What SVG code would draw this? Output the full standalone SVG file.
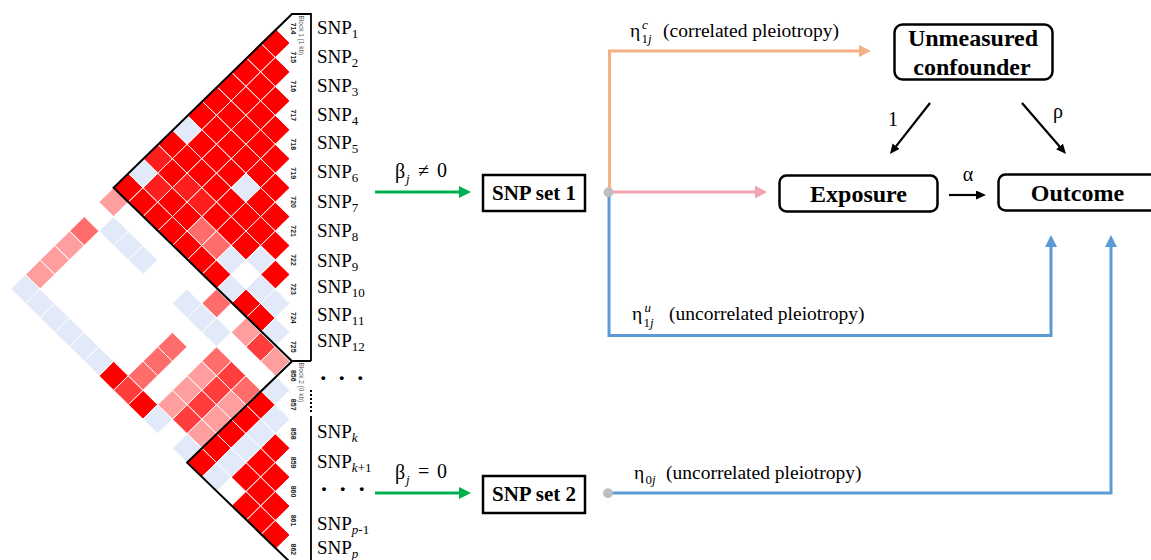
<svg xmlns="http://www.w3.org/2000/svg" width="1151" height="560" viewBox="0 0 1151 560">
<style>
.ld rect{stroke:#fff;stroke-width:1;vector-effect:non-scaling-stroke}
.r{fill:#ff0000}.r2{fill:#ff1e1e}.m{fill:#ff3d3d}.s{fill:#ff6c6c}.p{fill:#ff9e9e}.b{fill:#e2eafa}
.blk{fill:none;stroke:#000;stroke-width:2}
.mk{font-family:"Liberation Sans",Arial,sans-serif;font-size:7px;font-weight:bold;fill:#222;text-anchor:middle}
.bl{font-family:"Liberation Sans",Arial,sans-serif;font-size:6.5px;fill:#555}
.snp{font-family:"Liberation Serif","Times New Roman",serif;font-size:19px;fill:#000}
.sub{font-size:13px}
.it{font-style:italic}
.dots{font-family:"Liberation Serif",serif;font-size:24px;font-weight:bold}
.lbl{font-family:"Liberation Serif","Times New Roman",serif;font-size:19.5px;fill:#000}
.gk{font-family:"Liberation Serif","DejaVu Serif",serif;font-size:20px;fill:#000}
.sm{font-family:"Liberation Serif","DejaVu Serif",serif;font-size:13px;fill:#000}
.box{fill:#fff;stroke:#000;stroke-width:2.5}
.bt{font-family:"Liberation Serif","Times New Roman",serif;font-weight:bold;text-anchor:middle;fill:#000}
.ln{fill:none;stroke-width:3}
.ka{fill:none;stroke:#000;stroke-width:2.2}
</style>
<defs>
<marker id="ag" markerUnits="userSpaceOnUse" markerWidth="13" markerHeight="13" refX="1" refY="6" orient="auto"><path d="M0,0 L12,6 L0,12z" fill="#00b050"/></marker>
<marker id="ao" markerUnits="userSpaceOnUse" markerWidth="13" markerHeight="13" refX="1" refY="6" orient="auto"><path d="M0,0 L12,6 L0,12z" fill="#f4b183"/></marker>
<marker id="ap" markerUnits="userSpaceOnUse" markerWidth="13" markerHeight="13" refX="1" refY="6.5" orient="auto"><path d="M0,0 L12,6.5 L0,13z" fill="#f4a3b4"/></marker>
<marker id="ab" markerUnits="userSpaceOnUse" markerWidth="13" markerHeight="13" refX="1" refY="6" orient="auto"><path d="M0,0 L12,6 L0,12z" fill="#5b9bd5"/></marker>
<marker id="ak" markerUnits="userSpaceOnUse" markerWidth="11" markerHeight="10" refX="0.5" refY="4.5" orient="auto"><path d="M0,0 L10,4.5 L0,9z" fill="#000"/></marker>
</defs>

<!-- LD plot: cell (i,j) maps onto a diamond between markers i and j -->
<g id="ld-plot">
<g class="ld" transform="matrix(14.7 14.47 -14.7 14.47 290 14.03)">
<g class="r">
<rect x="0" y="1" width="1" height="1"/><rect x="0" y="2" width="1" height="1"/><rect x="0" y="3" width="1" height="1"/><rect x="0" y="4" width="1" height="1"/><rect x="0" y="5" width="1" height="1"/><rect x="0" y="6" width="1" height="1"/><rect x="0" y="8" width="1" height="1"/><rect x="0" y="11" width="1" height="1"/>
<rect x="1" y="2" width="1" height="1"/><rect x="1" y="3" width="1" height="1"/><rect x="1" y="4" width="1" height="1"/><rect x="1" y="5" width="1" height="1"/><rect x="1" y="6" width="1" height="1"/><rect x="1" y="7" width="1" height="1"/><rect x="1" y="8" width="1" height="1"/><rect x="1" y="9" width="1" height="1"/><rect x="1" y="11" width="1" height="1"/>
<rect x="2" y="3" width="1" height="1"/><rect x="2" y="4" width="1" height="1"/><rect x="2" y="5" width="1" height="1"/><rect x="2" y="6" width="1" height="1"/><rect x="2" y="7" width="1" height="1"/><rect x="2" y="8" width="1" height="1"/><rect x="2" y="10" width="1" height="1"/><rect x="2" y="11" width="1" height="1"/>
<rect x="3" y="4" width="1" height="1"/><rect x="3" y="5" width="1" height="1"/><rect x="3" y="6" width="1" height="1"/><rect x="3" y="7" width="1" height="1"/><rect x="3" y="8" width="1" height="1"/><rect x="3" y="10" width="1" height="1"/><rect x="3" y="11" width="1" height="1"/>
<rect x="4" y="5" width="1" height="1"/><rect x="4" y="6" width="1" height="1"/><rect x="4" y="8" width="1" height="1"/><rect x="4" y="9" width="1" height="1"/><rect x="4" y="11" width="1" height="1"/>
<rect x="5" y="6" width="1" height="1"/><rect x="5" y="7" width="1" height="1"/><rect x="5" y="8" width="1" height="1"/><rect x="5" y="9" width="1" height="1"/><rect x="5" y="11" width="1" height="1"/>
<rect x="6" y="7" width="1" height="1"/><rect x="6" y="8" width="1" height="1"/><rect x="6" y="9" width="1" height="1"/><rect x="6" y="11" width="1" height="1"/><rect x="6" y="18" width="1" height="1"/>
<rect x="7" y="8" width="1" height="1"/>
<rect x="8" y="9" width="1" height="1"/><rect x="8" y="11" width="1" height="1"/><rect x="8" y="18" width="1" height="1"/>
<rect x="9" y="11" width="1" height="1"/>
<rect x="12" y="14" width="1" height="1"/><rect x="12" y="15" width="1" height="1"/><rect x="12" y="16" width="1" height="1"/><rect x="12" y="17" width="1" height="1"/><rect x="12" y="18" width="1" height="1"/>
<rect x="14" y="15" width="1" height="1"/><rect x="14" y="16" width="1" height="1"/><rect x="14" y="17" width="1" height="1"/>
<rect x="15" y="16" width="1" height="1"/><rect x="15" y="17" width="1" height="1"/><rect x="15" y="18" width="1" height="1"/>
<rect x="16" y="17" width="1" height="1"/><rect x="16" y="18" width="1" height="1"/>
<rect x="17" y="18" width="1" height="1"/>
</g>
<g class="r2">
<rect x="0" y="9" width="1" height="1"/><rect x="1" y="10" width="1" height="1"/><rect x="2" y="9" width="1" height="1"/><rect x="3" y="9" width="1" height="1"/>
</g>
<g class="m">
<rect x="7" y="18" width="1" height="1"/><rect x="10" y="12" width="1" height="1"/><rect x="10" y="14" width="1" height="1"/><rect x="10" y="15" width="1" height="1"/><rect x="10" y="16" width="1" height="1"/><rect x="10" y="17" width="1" height="1"/>
</g>
<g class="s">
<rect x="0" y="14" width="1" height="1"/><rect x="4" y="10" width="1" height="1"/><rect x="5" y="10" width="1" height="1"/><rect x="7" y="12" width="1" height="1"/><rect x="7" y="15" width="1" height="1"/><rect x="7" y="16" width="1" height="1"/><rect x="7" y="17" width="1" height="1"/><rect x="9" y="14" width="1" height="1"/><rect x="11" y="14" width="1" height="1"/>
</g>
<g class="p">
<rect x="0" y="12" width="1" height="1"/><rect x="0" y="15" width="1" height="1"/><rect x="0" y="16" width="1" height="1"/><rect x="0" y="17" width="1" height="1"/><rect x="9" y="12" width="1" height="1"/><rect x="9" y="15" width="1" height="1"/><rect x="9" y="16" width="1" height="1"/><rect x="9" y="17" width="1" height="1"/><rect x="11" y="12" width="1" height="1"/><rect x="11" y="15" width="1" height="1"/><rect x="11" y="16" width="1" height="1"/><rect x="11" y="17" width="1" height="1"/>
</g>
<g class="b">
<rect x="0" y="7" width="1" height="1"/><rect x="0" y="10" width="1" height="1"/><rect x="0" y="18" width="1" height="1"/><rect x="1" y="13" width="1" height="1"/><rect x="1" y="18" width="1" height="1"/><rect x="2" y="13" width="1" height="1"/><rect x="2" y="18" width="1" height="1"/><rect x="3" y="13" width="1" height="1"/><rect x="3" y="18" width="1" height="1"/><rect x="4" y="7" width="1" height="1"/><rect x="4" y="18" width="1" height="1"/><rect x="5" y="18" width="1" height="1"/><rect x="6" y="10" width="1" height="1"/><rect x="6" y="13" width="1" height="1"/><rect x="7" y="9" width="1" height="1"/><rect x="7" y="11" width="1" height="1"/><rect x="7" y="13" width="1" height="1"/><rect x="8" y="10" width="1" height="1"/><rect x="8" y="13" width="1" height="1"/><rect x="9" y="10" width="1" height="1"/><rect x="9" y="18" width="1" height="1"/><rect x="10" y="11" width="1" height="1"/><rect x="11" y="18" width="1" height="1"/><rect x="12" y="13" width="1" height="1"/><rect x="13" y="14" width="1" height="1"/><rect x="13" y="15" width="1" height="1"/><rect x="13" y="16" width="1" height="1"/><rect x="13" y="17" width="1" height="1"/><rect x="13" y="18" width="1" height="1"/>
</g>
</g>
<!-- haplotype block outlines -->
<polyline class="blk" points="292,14 113.6,187.7 292,361.3"/>
<polyline class="blk" points="292,361.3 187.1,462.6 292,564"/>
<!-- marker numbers -->
<g class="mk">
<text transform="translate(290.5,28.5) rotate(90)">714</text>
<text transform="translate(290.5,57.4) rotate(90)">715</text>
<text transform="translate(290.5,86.4) rotate(90)">716</text>
<text transform="translate(290.5,115.3) rotate(90)">717</text>
<text transform="translate(290.5,144.3) rotate(90)">718</text>
<text transform="translate(290.5,173.2) rotate(90)">719</text>
<text transform="translate(290.5,202.1) rotate(90)">720</text>
<text transform="translate(290.5,231.1) rotate(90)">721</text>
<text transform="translate(290.5,260) rotate(90)">722</text>
<text transform="translate(290.5,289) rotate(90)">723</text>
<text transform="translate(290.5,317.9) rotate(90)">724</text>
<text transform="translate(290.5,346.8) rotate(90)">725</text>
<text transform="translate(290.5,375.8) rotate(90)">856</text>
<text transform="translate(290.5,404.7) rotate(90)">857</text>
<text transform="translate(290.5,433.7) rotate(90)">858</text>
<text transform="translate(290.5,462.6) rotate(90)">859</text>
<text transform="translate(290.5,491.5) rotate(90)">860</text>
<text transform="translate(290.5,520.5) rotate(90)">861</text>
<text transform="translate(290.5,549.4) rotate(90)">862</text>
</g>
<text class="bl" transform="translate(299.3,15.5) rotate(90)">Block 1 (1 kb)</text>
<text class="bl" transform="translate(299.3,362.5) rotate(90)">Block 2 (0 kb)</text>
<!-- bracket between marker numbers and SNP names -->
<path d="M291,14 H311 V361 M291,361 H311 M311,416 V560" fill="none" stroke="#000" stroke-width="1.8"/>
<path d="M311,390 V414" fill="none" stroke="#000" stroke-width="2" stroke-dasharray="2 2"/>
</g>

<g id="snp-labels" class="snp">
<text x="317" y="33.5">SNP<tspan class="sub" dy="4">1</tspan></text>
<text x="317" y="62.5">SNP<tspan class="sub" dy="4">2</tspan></text>
<text x="317" y="91.7">SNP<tspan class="sub" dy="4">3</tspan></text>
<text x="317" y="120.7">SNP<tspan class="sub" dy="4">4</tspan></text>
<text x="317" y="149">SNP<tspan class="sub" dy="4">5</tspan></text>
<text x="317" y="177.7">SNP<tspan class="sub" dy="4">6</tspan></text>
<text x="317" y="208.3">SNP<tspan class="sub" dy="4">7</tspan></text>
<text x="317" y="237.3">SNP<tspan class="sub" dy="4">8</tspan></text>
<text x="317" y="267">SNP<tspan class="sub" dy="4">9</tspan></text>
<text x="317" y="293.3">SNP<tspan class="sub" dy="4">10</tspan></text>
<text x="317" y="320.7">SNP<tspan class="sub" dy="4">11</tspan></text>
<text x="317" y="347.3">SNP<tspan class="sub" dy="4">12</tspan></text>
<text class="dots" x="319.3 337.7 356.3" y="386">···</text>
<text x="317" y="438.3">SNP<tspan class="sub it" dy="4">k</tspan></text>
<text x="317" y="468.3">SNP<tspan class="sub" dy="4"><tspan class="it">k</tspan>+1</tspan></text>
<text class="dots" x="320 338.7 357.7" y="497">···</text>
<text x="317" y="530">SNP<tspan class="sub" dy="4"><tspan class="it">p</tspan>-1</tspan></text>
<text x="317" y="554.3">SNP<tspan class="sub it" dy="4">p</tspan></text>
</g>

<g id="connectors">
<path class="ln" d="M375,192 H460" stroke="#00b050" marker-end="url(#ag)"/>
<path class="ln" d="M375,493 H460" stroke="#00b050" marker-end="url(#ag)"/>
<path class="ln" d="M609.5,192 V51 H860" stroke="#f4b183" marker-end="url(#ao)"/>
<path class="ln" d="M609,192 H756" stroke="#f4a3b4" marker-end="url(#ap)"/>
<path class="ln" d="M609,192 V335.5 H1051 V246" stroke="#5b9bd5" marker-end="url(#ab)"/>
<path class="ln" d="M609,493 H1111 V246" stroke="#5b9bd5" marker-end="url(#ab)"/>
<path class="ka" d="M930,103 L895.8,146.6" marker-end="url(#ak)"/>
<path class="ka" d="M1022,103 L1059.8,146.8" marker-end="url(#ak)"/>
<path class="ka" d="M949,195 H976.5" marker-end="url(#ak)"/>
<circle cx="608.5" cy="192.3" r="5" fill="#bfbfbf"/>
<circle cx="608" cy="493.3" r="5" fill="#bfbfbf"/>
<!-- edge labels -->
<text class="gk" x="395" y="178">β</text><text class="sm it" x="406" y="183">j</text><text class="gk" x="418" y="177" font-size="18">≠</text><text class="gk" x="437" y="177" font-size="18">0</text>
<text class="gk" x="395" y="479">β</text><text class="sm it" x="406" y="484">j</text><text class="gk" x="418" y="478" font-size="18">=</text><text class="gk" x="437" y="478" font-size="18">0</text>
<text class="lbl" x="630" y="37">η</text><text class="sm it" x="642" y="29" font-size="12">c</text><text class="sm" x="641.5" y="43">1<tspan class="it">j</tspan></text><text class="lbl" x="663" y="37">(correlated pleiotropy)</text>
<text class="lbl" x="632" y="320">η</text><text class="sm it" x="644.5" y="312" font-size="12">u</text><text class="sm" x="643.5" y="327">1<tspan class="it">j</tspan></text><text class="lbl" x="669" y="320">(uncorrelated pleiotropy)</text>
<text class="lbl" x="634" y="479">η</text><text class="sm" x="645.5" y="484">0<tspan class="it">j</tspan></text><text class="lbl" x="666" y="479">(uncorrelated pleiotropy)</text>
<text class="gk" x="893" y="126" text-anchor="middle" font-size="22">1</text>
<text class="gk" x="1058" y="118" text-anchor="middle" font-size="22">ρ</text>
<text class="gk" x="968" y="181" text-anchor="middle" font-size="22">α</text>
</g>

<g id="snp-set-1">
<rect class="box" x="483" y="175" width="102" height="36"/>
<text class="bt" x="534" y="200" font-size="21">SNP set 1</text>
</g>
<g id="snp-set-2">
<rect class="box" x="483" y="476" width="102" height="37"/>
<text class="bt" x="534" y="501" font-size="21">SNP set 2</text>
</g>
<g id="confounder">
<rect class="box" x="894.5" y="24.5" width="158" height="55" rx="8"/>
<text class="bt" x="973" y="46" font-size="24">Unmeasured</text>
<text class="bt" x="972" y="75" font-size="24">confounder</text>
</g>
<g id="exposure">
<rect class="box" x="779.5" y="175.5" width="158" height="36" rx="7"/>
<text class="bt" x="858.5" y="202" font-size="24">Exposure</text>
</g>
<g id="outcome">
<rect class="box" x="998.5" y="174.5" width="160" height="36" rx="7"/>
<text class="bt" x="1077.5" y="201" font-size="24">Outcome</text>
</g>
</svg>
